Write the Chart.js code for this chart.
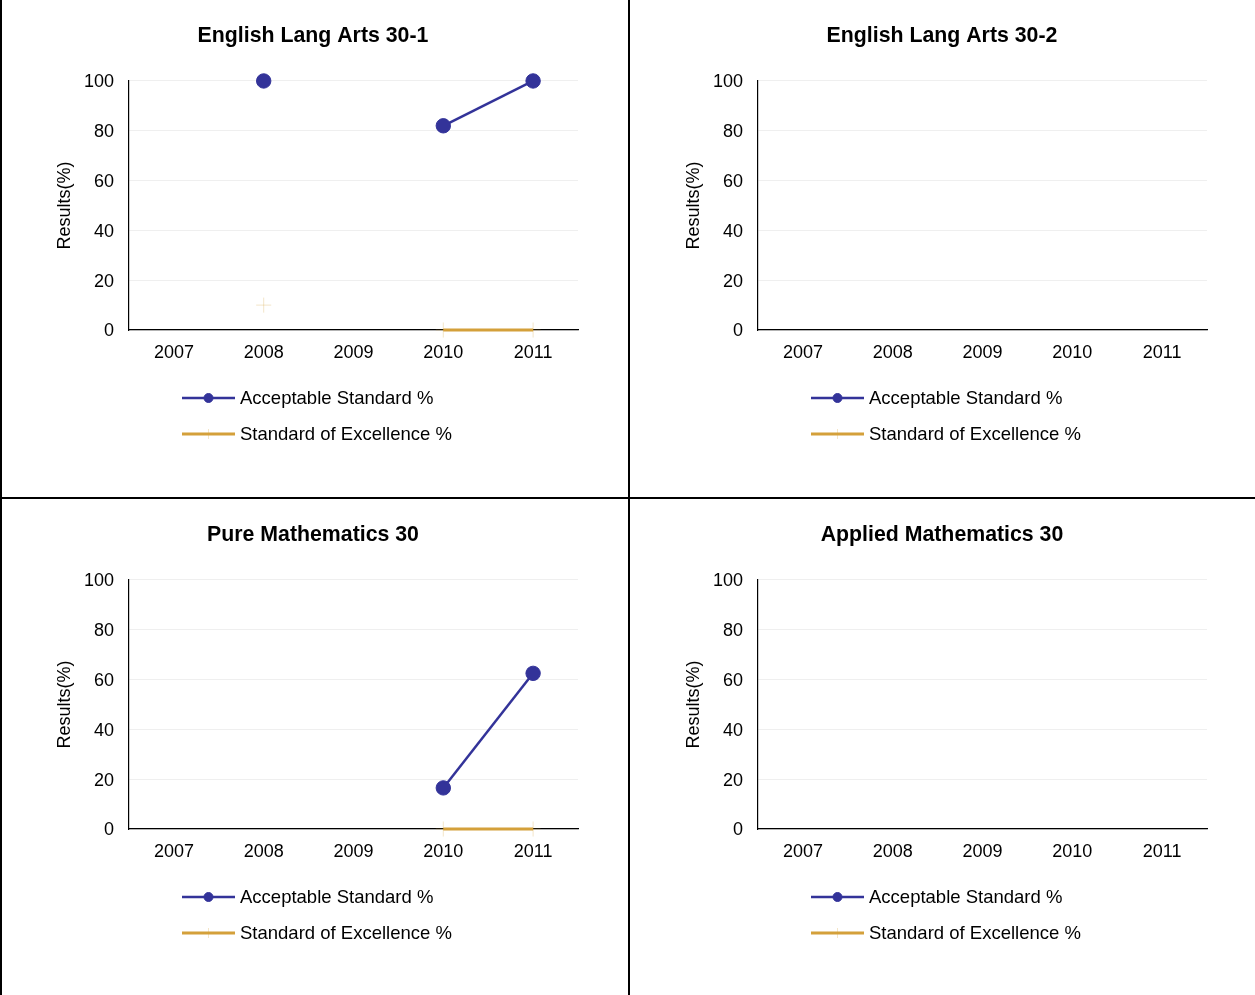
<!DOCTYPE html>
<html>
<head>
<meta charset="utf-8">
<script src="https://cdn.jsdelivr.net/npm/chart.js@4/dist/chart.umd.min.js"></script>
<style>
  html, body { margin: 0; padding: 0; background: #fff; }
  #wrap { position: relative; width: 1255px; height: 995px; overflow: hidden; background: #fff; }
  canvas { position: absolute; }
  .rule { position: absolute; background: #000; }
</style>
</head>
<body>
<div id="wrap">
  <canvas id="c0" width="628" height="497" style="left:0px;top:0px"></canvas>
  <canvas id="c1" width="626" height="497" style="left:629px;top:0px"></canvas>
  <canvas id="c2" width="628" height="496" style="left:0px;top:499px"></canvas>
  <canvas id="c3" width="626" height="496" style="left:629px;top:499px"></canvas>
  <div class="rule" style="left:0;top:0;width:2px;height:995px"></div>
  <div class="rule" style="left:628px;top:0;width:2px;height:995px"></div>
  <div class="rule" style="left:0;top:497px;width:1255px;height:2px"></div>
</div>
<script>
// ---- data ----
const years = ['2007', '2008', '2009', '2010', '2011'];
const panelTitles = ['English Lang Arts 30-1', 'English Lang Arts 30-2', 'Pure Mathematics 30', 'Applied Mathematics 30'];
const seriesLabels = ['Acceptable Standard %', 'Standard of Excellence %'];
const yAxisTitle = 'Results(%)';
const yMin = 0, yMax = 100, yStep = 20;

const ela301Acceptable = [null, 100, null, 82, 100];
const ela301Excellence = [null, 10, null, 0, 0];
const ela302Acceptable = [null, null, null, null, null];
const ela302Excellence = [null, null, null, null, null];
const pureMathAcceptable = [null, null, null, 16.5, 62.5];
const pureMathExcellence = [null, null, null, 0, 0];
const appliedMathAcceptable = [null, null, null, null, null];
const appliedMathExcellence = [null, null, null, null, null];

const panelSeries = [
  [ela301Acceptable, ela301Excellence],
  [ela302Acceptable, ela302Excellence],
  [pureMathAcceptable, pureMathExcellence],
  [appliedMathAcceptable, appliedMathExcellence]
];

// ---- styling ----
const FONT = '"Liberation Sans", Arial, Helvetica, sans-serif';
const BLUE = '#333399';
const GOLD = '#d4a03a';
const GOLD_FAINT = 'rgba(212,160,58,0.28)';

const stackedLegend = {
  id: 'stackedLegend',
  afterDraw(chart) {
    const { ctx, chartArea } = chart;
    const x0 = chartArea.left + 53;
    const x1 = x0 + 53;
    chart.data.datasets.forEach((ds, i) => {
      const y = chartArea.bottom + 68 + i * 36;
      ctx.save();
      ctx.strokeStyle = ds.borderColor;
      ctx.lineWidth = ds.borderWidth;
      ctx.beginPath();
      ctx.moveTo(x0, y);
      ctx.lineTo(x1, y);
      ctx.stroke();
      ctx.fillStyle = ds.pointBackgroundColor;
      ctx.strokeStyle = ds.pointBorderColor;
      ctx.lineWidth = ds.pointBorderWidth;
      Chart.helpers.drawPoint(ctx, {
        pointStyle: ds.pointStyle,
        radius: ds.legendRadius,
        borderWidth: ds.pointBorderWidth,
        rotation: 0
      }, (x0 + x1) / 2, y);
      ctx.fillStyle = '#000';
      ctx.font = '18.5px ' + FONT;
      ctx.textBaseline = 'middle';
      ctx.textAlign = 'left';
      ctx.fillText(ds.label, x1 + 5, y + 1);
      ctx.restore();
    });
  }
};

function makeChart(idx) {
  const [acc, exc] = panelSeries[idx];
  const canvas = document.getElementById('c' + idx);
  const H = canvas.height;
  const W = canvas.width;
  return new Chart(canvas, {
    type: 'line',
    data: {
      labels: years,
      datasets: [
        {
          label: seriesLabels[0],
          data: acc,
          borderColor: BLUE,
          borderWidth: 2.5,
          backgroundColor: BLUE,
          pointStyle: 'circle',
          pointRadius: 7.2,
          pointHoverRadius: 7.2,
          pointBackgroundColor: BLUE,
          pointBorderColor: BLUE,
          pointBorderWidth: 1,
          legendRadius: 4.5,
          spanGaps: false,
          tension: 0,
          clip: false
        },
        {
          label: seriesLabels[1],
          data: exc,
          borderColor: GOLD,
          borderWidth: 3,
          backgroundColor: GOLD,
          pointStyle: 'cross',
          pointRadius: 7.5,
          pointHoverRadius: 7.5,
          pointBackgroundColor: GOLD_FAINT,
          pointBorderColor: GOLD_FAINT,
          pointBorderWidth: 1,
          legendRadius: 5,
          spanGaps: false,
          tension: 0,
          clip: false
        }
      ]
    },
    options: {
      responsive: false,
      animation: false,
      devicePixelRatio: 1,
      events: [],
      layout: { padding: { left: 48, right: W - 578, top: 0, bottom: H - 330 - 40 } },
      plugins: {
        legend: { display: false },
        tooltip: { enabled: false },
        title: {
          display: true,
          text: panelTitles[idx],
          color: '#000',
          font: { family: FONT, size: 21.3, weight: 'bold', lineHeight: 1.2 },
          padding: { top: 23.2, bottom: 32.2 }
        }
      },
      scales: {
        x: {
          type: 'category',
          offset: true,
          grid: { display: false, drawTicks: false },
          border: { display: true, color: '#000', width: 1.2 },
          ticks: { color: '#000', font: { family: FONT, size: 18 }, padding: 12, maxRotation: 0, autoSkip: false },
          afterFit(scale) { scale.height = 40; }
        },
        y: {
          min: yMin,
          max: yMax,
          grid: { color: '#efefef', lineWidth: 1, drawTicks: false },
          border: { display: true, color: '#000', width: 1.2 },
          ticks: { stepSize: yStep, color: '#000', font: { family: FONT, size: 18 }, padding: 15, labelOffset: 1.5 },
          title: {
            display: true,
            text: yAxisTitle,
            color: '#000',
            font: { family: FONT, size: 18, lineHeight: 1.2 },
            padding: { top: 5.8, bottom: 0 }
          },
          afterFit(scale) { scale.width = 81; }
        }
      }
    },
    plugins: [stackedLegend]
  });
}

for (let i = 0; i < 4; i++) makeChart(i);
</script>
</body>
</html>
